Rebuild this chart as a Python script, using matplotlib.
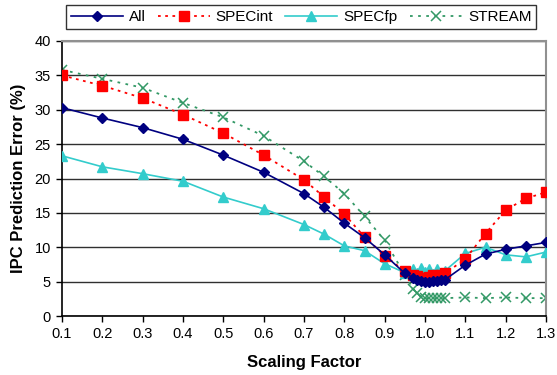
import matplotlib
matplotlib.use("Agg")
import matplotlib.pyplot as plt

plt.rcParams['font.family'] = ['Liberation Sans', 'DejaVu Sans']

scale = [0.1, 0.2, 0.3, 0.4, 0.5, 0.6, 0.7, 0.75, 0.8, 0.85, 0.9, 0.95,
         0.97, 0.98, 0.99, 1.0, 1.01, 1.02, 1.03, 1.04, 1.05,
         1.1, 1.15, 1.2, 1.25, 1.3]

err_all = [30.3, 28.8, 27.4, 25.7, 23.4, 20.9, 17.8, 15.8, 13.5, 11.4, 8.9, 6.2,
           5.6, 5.3, 5.1, 5.0, 5.0, 5.1, 5.1, 5.2, 5.3,
           7.4, 9.0, 9.7, 10.2, 10.7]
err_specint = [35.0, 33.5, 31.7, 29.3, 26.6, 23.4, 19.8, 17.3, 14.8, 11.5, 8.8, 6.5,
               6.0, 5.8, 5.6, 5.5, 5.7, 5.9, 5.8, 6.0, 6.2,
               8.3, 12.0, 15.4, 17.1, 18.0]
err_specfp = [23.3, 21.7, 20.7, 19.6, 17.3, 15.6, 13.3, 11.9, 10.2, 9.5, 7.6, 6.3,
              6.8, 6.2, 7.0, 6.4, 6.9, 6.1, 6.8, 6.2, 6.6,
              9.1, 10.0, 8.9, 8.6, 9.3]
err_stream = [35.8, 34.5, 33.2, 31.0, 28.9, 26.2, 22.5, 20.3, 17.8, 14.5, 11.0, 6.0,
              4.0, 3.3, 2.8, 2.6, 2.6, 2.6, 2.6, 2.6, 2.6,
              2.7, 2.6, 2.7, 2.6, 2.6]

xticks = [0.1, 0.2, 0.3, 0.4, 0.5, 0.6, 0.7, 0.8, 0.9, 1.0, 1.1, 1.2, 1.3]
xtick_labels = ['0.1', '0.2', '0.3', '0.4', '0.5', '0.6', '0.7', '0.8', '0.9',
                '1.0', '1.1', '1.2', '1.3']
yticks = [0, 5, 10, 15, 20, 25, 30, 35, 40]

fig = plt.figure(figsize=(5.57, 3.75), dpi=100)
ax = fig.add_axes([62 / 557, 59 / 375, 484 / 557, 275 / 375])

ax.plot(scale, err_all, color='#000080', lw=1.2, marker='D', ms=5.5,
        label='All', zorder=5)
ax.plot(scale, err_specint, color='#FF0000', lw=1.3, ls=(0, (1.5, 2.5)),
        marker='s', ms=6.5, label='SPECint', zorder=4)
ax.plot(scale, err_specfp, color='#33CCCC', lw=1.2, marker='^', ms=7,
        label='SPECfp', zorder=3)
ax.plot(scale, err_stream, color='#339966', lw=1.3, ls=(0, (1.5, 3)),
        marker='x', ms=6.5, mew=1.1, label='STREAM', zorder=2)

ax.set_xlim(0.1, 1.3)
ax.set_ylim(0, 40)
ax.set_xticks(xticks)
ax.set_xticklabels(xtick_labels)
ax.set_yticks(yticks)
ax.tick_params(direction='out', length=4, width=1, labelsize=10.5, pad=4,
               colors='black')
ax.yaxis.grid(True, color='#303030', lw=1)
ax.set_axisbelow(True)

for side in ('top', 'right'):
    ax.spines[side].set_color('#909090')
    ax.spines[side].set_linewidth(1.5)
for side in ('left', 'bottom'):
    ax.spines[side].set_color('black')
    ax.spines[side].set_linewidth(1.2)

ax.set_xlabel('Scaling Factor', fontsize=12, fontweight='bold', labelpad=10)
ax.set_ylabel('IPC Prediction Error (%)', fontsize=12, fontweight='bold',
              labelpad=6)

leg = fig.legend(loc='center', bbox_to_anchor=(301 / 557, 1 - 17 / 375),
                 ncol=4, frameon=True, fancybox=False, edgecolor='black',
                 fontsize=11, handlelength=3.4, columnspacing=0.8,
                 handletextpad=0.4, borderpad=0.3, borderaxespad=0)
leg.get_frame().set_linewidth(1.0)

fig.savefig('out.png', dpi=100)
